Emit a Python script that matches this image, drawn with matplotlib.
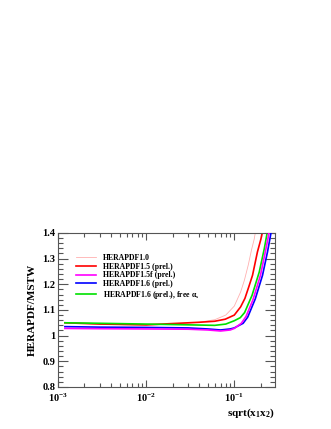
import matplotlib
matplotlib.use("Agg")
import matplotlib.pyplot as plt
from matplotlib.ticker import MultipleLocator, NullFormatter

plt.rcParams['font.family'] = ['Liberation Serif', 'DejaVu Serif']
plt.rcParams['font.weight'] = 'bold'
plt.rcParams['mathtext.fontset'] = 'custom'
plt.rcParams['mathtext.rm'] = 'Liberation Serif:bold'
plt.rcParams['mathtext.it'] = 'Liberation Serif:italic:bold'

# ratio HERAPDF / MSTW
x_10 = [0.0012, 0.003, 0.01, 0.02, 0.04, 0.06, 0.08, 0.1, 0.118, 0.13, 0.144, 0.157, 0.168, 0.177]
y_10 = [1.050, 1.045, 1.040, 1.045, 1.052, 1.062, 1.080, 1.115, 1.170, 1.215, 1.275, 1.335, 1.375, 1.42]

x_15 = [0.0012, 0.003, 0.01, 0.02, 0.04, 0.06, 0.079, 0.1, 0.118, 0.132, 0.146, 0.161, 0.183, 0.2, 0.214]
y_15 = [1.050, 1.045, 1.042, 1.047, 1.052, 1.056, 1.064, 1.080, 1.112, 1.145, 1.190, 1.235, 1.326, 1.375, 1.42]

x_15f = [0.0012, 0.003, 0.01, 0.03, 0.05, 0.07, 0.09, 0.1, 0.12, 0.136, 0.163, 0.198, 0.226, 0.243, 0.253]
y_15f = [1.028, 1.027, 1.026, 1.025, 1.022, 1.018, 1.022, 1.028, 1.048, 1.075, 1.140, 1.235, 1.330, 1.385, 1.42]

x_16 = [0.0012, 0.003, 0.01, 0.03, 0.05, 0.07, 0.09, 0.1, 0.126, 0.142, 0.173, 0.209, 0.238, 0.256, 0.267]
y_16 = [1.035, 1.033, 1.032, 1.030, 1.026, 1.022, 1.026, 1.030, 1.048, 1.072, 1.143, 1.235, 1.326, 1.385, 1.42]

x_16a = [0.0012, 0.003, 0.01, 0.03, 0.06, 0.08, 0.1, 0.117, 0.131, 0.159, 0.192, 0.219, 0.233, 0.241]
y_16a = [1.050, 1.048, 1.045, 1.042, 1.040, 1.045, 1.058, 1.070, 1.090, 1.157, 1.248, 1.339, 1.390, 1.42]

labels = ["HERAPDF1.0", "HERAPDF1.5 (prel.)", "HERAPDF1.5f (prel.)",
          "HERAPDF1.6 (prel.)", r"HERAPDF1.6 (prel.), free $\mathregular{\alpha_s}$"]
colors = ["#ffb0b0", "#ff0000", "#ff00ff", "#0000ff", "#00e000"]
widths = [0.6, 1.2, 1.2, 1.2, 1.2]
zorders = [2, 2, 4, 3, 2]

fig = plt.figure(figsize=(3.31, 4.29), dpi=100)
ax = fig.add_axes([0.175, 0.098, 0.656, 0.359])

series = [(x_10, y_10), (x_15, y_15), (x_15f, y_15f), (x_16, y_16), (x_16a, y_16a)]
for (xs, ys), lab, c, lw, z in zip(series, labels, colors, widths, zorders):
    ax.plot(xs, ys, color=c, lw=lw, label=lab, zorder=z)

ax.set_xscale('log')
ax.set_xlim(1e-3, 0.29)
ax.set_ylim(0.8, 1.4)

ax.yaxis.set_minor_locator(MultipleLocator(0.02))
ax.set_yticks([0.8, 0.9, 1.0, 1.1, 1.2, 1.3, 1.4])
ax.set_yticklabels(["0.8", "0.9", "1", "1.1", "1.2", "1.3", "1.4"])
ax.set_xticks([1e-3, 1e-2, 1e-1])
ax.set_xticklabels([r"$\mathregular{10^{-3}}$", r"$\mathregular{10^{-2}}$", r"$\mathregular{10^{-1}}$"])
ax.xaxis.set_minor_formatter(NullFormatter())

ax.tick_params(which='both', direction='in', top=True, right=True, color='#555555',
               labelsize=7.5, pad=2)
ax.tick_params(which='major', length=7, width=0.8)
ax.tick_params(which='minor', length=3.5, width=0.8)
ax.tick_params(axis='x', which='major', length=5, pad=3)
ax.tick_params(axis='x', which='minor', length=3)
for sp in ax.spines.values():
    sp.set_color('#555555')
    sp.set_linewidth(0.8)

ax.set_ylabel("HERAPDF/MSTW", fontsize=8, fontweight='bold', labelpad=4)
ax.set_xlabel(r"sqrt(x$\mathregular{_1}$x$\mathregular{_2}$)", fontsize=8,
              fontweight='bold', loc='right', labelpad=2)

leg = ax.legend(loc='upper left', bbox_to_anchor=(0.07, 0.885), frameon=False,
                fontsize=5.6, handlelength=2.6, handletextpad=0.8,
                labelspacing=0.1, borderaxespad=0)

fig.savefig("out.png", dpi=100)
